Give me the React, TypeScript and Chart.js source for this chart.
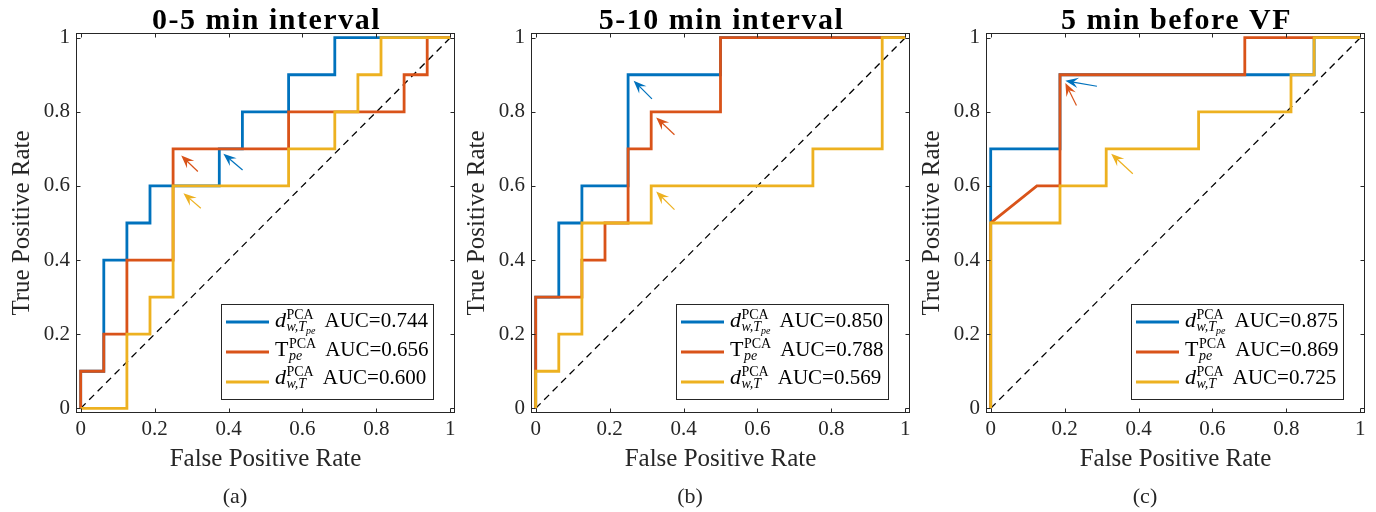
import React, { useEffect, useRef } from 'react';
import { Chart, registerables } from 'chart.js';

Chart.register(...registerables);

const FONT = "'Liberation Serif', 'Times New Roman', Times, serif";
const TEXT = '#262626';
const C_BLUE = '#0072BD';
const C_RED = '#D95319';
const C_YELLOW = '#EDB120';

// ---- tick labels / texts ----
const TICKS = [0, 0.2, 0.4, 0.6, 0.8, 1];
const TICK_LABELS = ['0', '0.2', '0.4', '0.6', '0.8', '1'];
const X_TITLE = 'False Positive Rate';
const Y_TITLE = 'True Positive Rate';
const TITLES = ['0-5 min interval', '5-10 min interval', '5 min before VF'];
const CAPTIONS = ['(a)', '(b)', '(c)'];

// legend label pieces (blue, red, yellow)
const LEGEND_BASE = ['d', 'T', 'd'];
const LEGEND_BASE_ITALIC = [true, false, true];
const LEGEND_SUP = ['PCA', 'PCA', 'PCA'];
const LEGEND_SUB = ['w,T', 'pe', 'w,T'];
const LEGEND_SUBSUB = ['pe', '', ''];

// ---- AUC values per panel ----
const AUC_A = ['0.744', '0.656', '0.600'];
const AUC_B = ['0.850', '0.788', '0.569'];
const AUC_C = ['0.875', '0.869', '0.725'];

// ---- Panel (a) 0-5 min interval ----
const A_BLUE_X = [0, 0, 0.0625, 0.0625, 0.125, 0.125, 0.1875, 0.1875, 0.375, 0.375, 0.4375, 0.4375, 0.5625, 0.5625, 0.6875, 0.6875, 1];
const A_BLUE_Y = [0, 0.1, 0.1, 0.4, 0.4, 0.5, 0.5, 0.6, 0.6, 0.7, 0.7, 0.8, 0.8, 0.9, 0.9, 1, 1];
const A_RED_X = [0, 0, 0.0625, 0.0625, 0.125, 0.125, 0.25, 0.25, 0.5625, 0.5625, 0.875, 0.875, 0.9375, 0.9375, 1];
const A_RED_Y = [0, 0.1, 0.1, 0.2, 0.2, 0.4, 0.4, 0.7, 0.7, 0.8, 0.8, 0.9, 0.9, 1, 1];
const A_YELLOW_X = [0, 0.125, 0.125, 0.1875, 0.1875, 0.25, 0.25, 0.5625, 0.5625, 0.6875, 0.6875, 0.75, 0.75, 0.8125, 0.8125, 1];
const A_YELLOW_Y = [0, 0, 0.2, 0.2, 0.3, 0.3, 0.6, 0.6, 0.7, 0.7, 0.8, 0.8, 0.9, 0.9, 1, 1];

// ---- Panel (b) 5-10 min interval ----
const B_BLUE_X = [0, 0, 0.0625, 0.0625, 0.125, 0.125, 0.25, 0.25, 0.5, 0.5, 1];
const B_BLUE_Y = [0, 0.3, 0.3, 0.5, 0.5, 0.6, 0.6, 0.9, 0.9, 1, 1];
const B_RED_X = [0, 0, 0.125, 0.125, 0.1875, 0.1875, 0.25, 0.25, 0.3125, 0.3125, 0.5, 0.5, 1];
const B_RED_Y = [0, 0.3, 0.3, 0.4, 0.4, 0.5, 0.5, 0.7, 0.7, 0.8, 0.8, 1, 1];
const B_YELLOW_X = [0, 0, 0.0625, 0.0625, 0.125, 0.125, 0.3125, 0.3125, 0.75, 0.75, 0.9375, 0.9375, 1];
const B_YELLOW_Y = [0, 0.1, 0.1, 0.2, 0.2, 0.5, 0.5, 0.6, 0.6, 0.7, 0.7, 1, 1];

// ---- Panel (c) 5 min before VF ----
const C_BLUE_X = [0, 0, 0.1875, 0.1875, 0.875, 0.875, 1];
const C_BLUE_Y = [0, 0.7, 0.7, 0.9, 0.9, 1, 1];
const C_RED_X = [0, 0, 0.125, 0.1875, 0.1875, 0.6875, 0.6875, 1];
const C_RED_Y = [0, 0.5, 0.6, 0.6, 0.9, 0.9, 1, 1];
const C_YELLOW_X = [0, 0, 0.1875, 0.1875, 0.3125, 0.3125, 0.5625, 0.5625, 0.8125, 0.8125, 0.875, 0.875, 1];
const C_YELLOW_Y = [0, 0.5, 0.5, 0.6, 0.6, 0.7, 0.7, 0.8, 0.8, 0.9, 0.9, 1, 1];

// chance line
const DIAG_X = [0, 1];
const DIAG_Y = [0, 1];

// arrows: [tailX, tailY, headX, headY] in data units (blue, red, yellow)
const ARROWS_A = [[0.438, 0.643, 0.386, 0.687], [0.317, 0.639, 0.272, 0.682], [0.325, 0.540, 0.278, 0.580]];
const ARROWS_B = [[0.3145, 0.835, 0.265, 0.884], [0.3755, 0.738, 0.326, 0.785], [0.3755, 0.536, 0.326, 0.585]];
const ARROWS_C = [[0.2875, 0.869, 0.202, 0.884], [0.232, 0.817, 0.202, 0.878], [0.3845, 0.633, 0.326, 0.687]];

const COLORS = [C_BLUE, C_RED, C_YELLOW];

const PANELS = [
  { xs: [A_BLUE_X, A_RED_X, A_YELLOW_X], ys: [A_BLUE_Y, A_RED_Y, A_YELLOW_Y], auc: AUC_A, arrows: ARROWS_A },
  { xs: [B_BLUE_X, B_RED_X, B_YELLOW_X], ys: [B_BLUE_Y, B_RED_Y, B_YELLOW_Y], auc: AUC_B, arrows: ARROWS_B },
  { xs: [C_BLUE_X, C_RED_X, C_YELLOW_X], ys: [C_BLUE_Y, C_RED_Y, C_YELLOW_Y], auc: AUC_C, arrows: ARROWS_C },
];

const toPts = (xs: number[], ys: number[]) => xs.map((x, i) => ({ x, y: ys[i] }));

function drawArrow(ctx: CanvasRenderingContext2D, tx: number, ty: number, hx: number, hy: number, color: string) {
  const dx = hx - tx, dy = hy - ty;
  const len = Math.hypot(dx, dy) || 1;
  const ux = dx / len, uy = dy / len;
  const px = -uy, py = ux;
  const L = 13, W = 5.2;
  ctx.save();
  ctx.strokeStyle = color;
  ctx.fillStyle = color;
  ctx.lineWidth = 1.2;
  ctx.beginPath();
  ctx.moveTo(tx, ty);
  ctx.lineTo(hx - ux * L * 0.6, hy - uy * L * 0.6);
  ctx.stroke();
  ctx.beginPath();
  ctx.moveTo(hx, hy);
  ctx.lineTo(hx - ux * L + px * W, hy - uy * L + py * W);
  ctx.lineTo(hx - ux * L * 0.62, hy - uy * L * 0.62);
  ctx.lineTo(hx - ux * L - px * W, hy - uy * L - py * W);
  ctx.closePath();
  ctx.fill();
  ctx.restore();
}

function makePlugin(idx: number) {
  const panel = PANELS[idx];
  return {
    id: 'rocDecor' + idx,
    afterDatasetsDraw(chart: any) {
      const ctx: CanvasRenderingContext2D = chart.ctx;
      const ca = chart.chartArea;
      const sx = chart.scales.x, sy = chart.scales.y;

      // arrows
      panel.arrows.forEach((a, i) => {
        drawArrow(ctx, sx.getPixelForValue(a[0]), sy.getPixelForValue(a[1]), sx.getPixelForValue(a[2]), sy.getPixelForValue(a[3]), COLORS[i]);
      });

      // legend
      const bx = ca.left + 144, by = ca.top + 270, bw = 212, bh = 95;
      ctx.save();
      ctx.fillStyle = '#fff';
      ctx.fillRect(bx, by, bw, bh);
      ctx.strokeStyle = TEXT;
      ctx.lineWidth = 1;
      ctx.strokeRect(bx + 0.5, by + 0.5, bw, bh);
      const lineY = [18, 48, 78];
      const baseY = [23, 52, 80];
      for (let i = 0; i < 3; i++) {
        const ly = by + lineY[i];
        ctx.strokeStyle = COLORS[i];
        ctx.lineWidth = 3;
        ctx.beginPath();
        ctx.moveTo(bx + 5, ly);
        ctx.lineTo(bx + 48, ly);
        ctx.stroke();
        const bl = by + baseY[i];
        let x = bx + 54;
        ctx.fillStyle = '#000';
        ctx.textBaseline = 'alphabetic';
        ctx.textAlign = 'left';
        ctx.font = (LEGEND_BASE_ITALIC[i] ? 'italic ' : '') + '22px ' + FONT;
        ctx.fillText(LEGEND_BASE[i], x, bl);
        x += ctx.measureText(LEGEND_BASE[i]).width + 0.5;
        ctx.font = '14px ' + FONT;
        ctx.fillText(LEGEND_SUP[i], x, bl - 8);
        const supW = ctx.measureText(LEGEND_SUP[i]).width;
        ctx.font = 'italic 14px ' + FONT;
        ctx.fillText(LEGEND_SUB[i], x, bl + 4);
        let subW = ctx.measureText(LEGEND_SUB[i]).width;
        if (LEGEND_SUBSUB[i]) {
          ctx.font = 'italic 10px ' + FONT;
          ctx.fillText(LEGEND_SUBSUB[i], x + subW, bl + 7);
          subW += ctx.measureText(LEGEND_SUBSUB[i]).width;
        }
        x += Math.max(supW, subW) + 9;
        ctx.font = '21px ' + FONT;
        ctx.fillText('AUC=' + panel.auc[i], x, bl);
      }
      ctx.restore();

      // axes box with inward ticks
      ctx.save();
      ctx.strokeStyle = TEXT;
      ctx.lineWidth = 1;
      const l = ca.left - 0.5, r = ca.right + 0.5, t = ca.top - 0.5, b = ca.bottom + 0.5;
      ctx.strokeRect(l, t, r - l, b - t);
      const TL = 4;
      ctx.beginPath();
      TICKS.forEach((v) => {
        const px = Math.round(sx.getPixelForValue(v)) + 0.5;
        ctx.moveTo(px, b); ctx.lineTo(px, b - TL);
        ctx.moveTo(px, t); ctx.lineTo(px, t + TL);
        const py = Math.round(sy.getPixelForValue(v)) + 0.5;
        ctx.moveTo(l, py); ctx.lineTo(l + TL, py);
        ctx.moveTo(r, py); ctx.lineTo(r - TL, py);
      });
      ctx.stroke();
      ctx.restore();
    },
    afterDraw(chart: any) {
      const ctx: CanvasRenderingContext2D = chart.ctx;
      const ca = chart.chartArea;
      ctx.save();
      ctx.fillStyle = '#000';
      ctx.textAlign = 'center';
      ctx.textBaseline = 'alphabetic';
      ctx.font = 'bold 30px ' + FONT;
      (ctx as any).letterSpacing = '1.5px';
      ctx.fillText(TITLES[idx], (ca.left + ca.right) / 2 + 1, 29);
      (ctx as any).letterSpacing = '0px';
      ctx.font = '22px ' + FONT;
      ctx.fillStyle = TEXT;
      ctx.fillText(CAPTIONS[idx], 235, 503);
      ctx.restore();
    },
  };
}

function Panel({ idx }: { idx: number }) {
  const ref = useRef<HTMLCanvasElement | null>(null);
  useEffect(() => {
    if (!ref.current) return;
    const panel = PANELS[idx];
    const datasets: any[] = panel.xs.map((xs, i) => ({
      data: toPts(xs, panel.ys[i]),
      borderColor: COLORS[i],
      borderWidth: 2.8,
      showLine: true,
      pointRadius: 0,
      tension: 0,
      fill: false,
      borderJoinStyle: 'miter',
      order: 3 - i,
    }));
    datasets.push({
      data: toPts(DIAG_X, DIAG_Y),
      borderColor: '#000',
      borderWidth: 1.3,
      borderDash: [7, 5],
      showLine: true,
      pointRadius: 0,
      fill: false,
      order: 5,
    });
    const tickFont = { family: FONT, size: 21 };
    const titleFont = { family: FONT, size: 25 };
    const chart = new Chart(ref.current, {
      type: 'scatter',
      data: { datasets },
      plugins: [makePlugin(idx)],
      options: {
        animation: false,
        responsive: false,
        devicePixelRatio: 1,
        layout: { padding: { top: 34, left: 0, right: 12, bottom: 38 } },
        plugins: { legend: { display: false }, tooltip: { enabled: false }, title: { display: false } },
        scales: {
          x: {
            type: 'linear',
            min: -0.01,
            max: 1.01,
            grid: { display: false, drawTicks: false },
            border: { display: false },
            afterBuildTicks: (s: any) => { s.ticks = TICKS.map((v) => ({ value: v })); },
            afterFit: (s: any) => { s.height = 62; },
            ticks: {
              autoSkip: false,
              maxRotation: 0,
              padding: 5,
              color: TEXT,
              font: tickFont,
              callback: (_v: any, i: number) => TICK_LABELS[i],
            },
            title: { display: true, text: X_TITLE, color: TEXT, font: titleFont, padding: 0 },
          },
          y: {
            type: 'linear',
            min: -0.01,
            max: 1.01,
            grid: { display: false, drawTicks: false },
            border: { display: false },
            afterBuildTicks: (s: any) => { s.ticks = TICKS.map((v) => ({ value: v })); },
            afterFit: (s: any) => { s.width = 77; },
            ticks: {
              autoSkip: false,
              padding: 7,
              color: TEXT,
              font: tickFont,
              callback: (_v: any, i: number) => TICK_LABELS[i],
            },
            title: { display: true, text: Y_TITLE, color: TEXT, font: titleFont, padding: { top: 7, bottom: 0 } },
          },
        },
      } as any,
    });
    return () => chart.destroy();
  }, [idx]);
  return (
    <canvas
      ref={ref}
      width={466}
      height={512}
      style={{ position: 'absolute', left: idx * 455, top: 0, width: 466, height: 512 }}
    />
  );
}

export default function App() {
  return (
    <div style={{ position: 'absolute', left: 0, top: 0, width: 1376, height: 512, background: '#fff', overflow: 'hidden' }}>
      <Panel idx={0} />
      <Panel idx={1} />
      <Panel idx={2} />
    </div>
  );
}
